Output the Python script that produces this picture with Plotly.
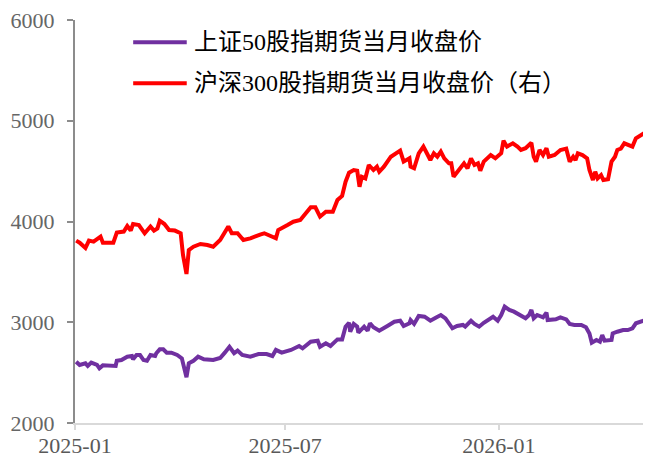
import plotly.graph_objects as go

# 上证50股指期货当月收盘价
sse50_dates = [
    "2025-01-02", "2025-01-05", "2025-01-10", "2025-01-12", "2025-01-15", "2025-01-20",
    "2025-01-22", "2025-01-25", "2025-02-05", "2025-02-06", "2025-02-10", "2025-02-15",
    "2025-02-19", "2025-02-20", "2025-02-23", "2025-02-26", "2025-03-01", "2025-03-04",
    "2025-03-07", "2025-03-11", "2025-03-12", "2025-03-15", "2025-03-18", "2025-03-21",
    "2025-03-25", "2025-03-30", "2025-04-03", "2025-04-05", "2025-04-07", "2025-04-09",
    "2025-04-13", "2025-04-17", "2025-04-22", "2025-04-30", "2025-05-06", "2025-05-10",
    "2025-05-14", "2025-05-18", "2025-05-21", "2025-05-25", "2025-06-01", "2025-06-08",
    "2025-06-15", "2025-06-20", "2025-06-23", "2025-06-28", "2025-07-06", "2025-07-13",
    "2025-07-16", "2025-07-23", "2025-07-29", "2025-07-31", "2025-08-05", "2025-08-09",
    "2025-08-15", "2025-08-19", "2025-08-22", "2025-08-25", "2025-08-26", "2025-08-29",
    "2025-09-01", "2025-09-02", "2025-09-07", "2025-09-10", "2025-09-12", "2025-09-15",
    "2025-09-20", "2025-09-27", "2025-10-03", "2025-10-08", "2025-10-11", "2025-10-16",
    "2025-10-17", "2025-10-20", "2025-10-24", "2025-10-29", "2025-11-03", "2025-11-08",
    "2025-11-12", "2025-11-16", "2025-11-19", "2025-11-22", "2025-11-26", "2025-12-01",
    "2025-12-03", "2025-12-08", "2025-12-11", "2025-12-15", "2025-12-19", "2025-12-27",
    "2025-12-31", "2026-01-03", "2026-01-06", "2026-01-10", "2026-01-14", "2026-01-19",
    "2026-01-24", "2026-01-27", "2026-01-29", "2026-01-31", "2026-02-03", "2026-02-08",
    "2026-02-11", "2026-02-12", "2026-02-19", "2026-02-23", "2026-02-28", "2026-03-03",
    "2026-03-07", "2026-03-13", "2026-03-17", "2026-03-20", "2026-03-22", "2026-03-26",
    "2026-03-29", "2026-03-31", "2026-04-02", "2026-04-08", "2026-04-09", "2026-04-13",
    "2026-04-18", "2026-04-22", "2026-04-26", "2026-04-29", "2026-05-03", "2026-05-08",
    "2026-05-12",
]
sse50_values = [
    2608, 2576, 2592, 2566, 2599, 2576,
    2543, 2572, 2566, 2618, 2625, 2658,
    2665, 2632, 2675, 2675, 2625, 2618,
    2675, 2665, 2692, 2731, 2731, 2698,
    2698, 2675, 2642, 2543, 2454, 2592,
    2618, 2658, 2632, 2625, 2645, 2698,
    2757, 2692, 2718, 2675, 2658, 2685,
    2685, 2665, 2725, 2698, 2725, 2764,
    2741, 2807, 2817, 2757, 2791, 2764,
    2830, 2830, 2956, 2995, 2906, 2983,
    2956, 2896, 2956, 2916, 2990, 2950,
    2916, 2963, 3005, 3015, 2963, 2990,
    3022, 2983, 3062, 3055, 3015, 3048,
    3072, 3039, 2995, 2940, 2963, 2973,
    2956, 3015, 2983, 2956, 2995, 3055,
    3015, 3072, 3155, 3122, 3105, 3072,
    3039, 3072, 3122, 3039, 3072, 3048,
    3095, 3022, 3029, 3048, 3029, 2983,
    2973, 2973, 2950, 2889, 2797, 2824,
    2807, 2873, 2817, 2824, 2889, 2906,
    2923, 2923, 2940, 2990, 3005, 3015,
    3039,
]

# 沪深300股指期货当月收盘价（右）
hs300_dates = [
    "2025-01-02", "2025-01-05", "2025-01-10", "2025-01-13", "2025-01-17", "2025-01-23",
    "2025-01-25", "2025-02-03", "2025-02-06", "2025-02-12", "2025-02-15", "2025-02-18",
    "2025-02-20", "2025-02-25", "2025-03-02", "2025-03-07", "2025-03-10", "2025-03-13",
    "2025-03-15", "2025-03-19", "2025-03-23", "2025-03-28", "2025-04-02", "2025-04-04",
    "2025-04-07", "2025-04-09", "2025-04-13", "2025-04-19", "2025-04-25", "2025-04-30",
    "2025-05-06", "2025-05-10", "2025-05-13", "2025-05-16", "2025-05-21", "2025-05-26",
    "2025-06-01", "2025-06-10", "2025-06-13", "2025-06-23", "2025-06-25", "2025-07-03",
    "2025-07-08", "2025-07-14", "2025-07-18", "2025-07-23", "2025-07-27", "2025-07-31",
    "2025-08-05", "2025-08-11", "2025-08-15", "2025-08-19", "2025-08-22", "2025-08-25",
    "2025-08-29", "2025-09-01", "2025-09-03", "2025-09-05", "2025-09-08", "2025-09-11",
    "2025-09-15", "2025-09-18", "2025-09-20", "2025-09-24", "2025-09-30", "2025-10-08",
    "2025-10-11", "2025-10-16", "2025-10-17", "2025-10-20", "2025-10-24", "2025-10-28",
    "2025-10-31", "2025-11-03", "2025-11-06", "2025-11-09", "2025-11-12", "2025-11-15",
    "2025-11-19", "2025-11-21", "2025-11-23", "2025-11-28", "2025-12-02", "2025-12-05",
    "2025-12-08", "2025-12-11", "2025-12-14", "2025-12-16", "2025-12-19", "2025-12-25",
    "2025-12-29", "2026-01-03", "2026-01-05", "2026-01-08", "2026-01-13", "2026-01-17",
    "2026-01-20", "2026-01-24", "2026-01-29", "2026-01-31", "2026-02-02", "2026-02-05",
    "2026-02-08", "2026-02-11", "2026-02-13", "2026-02-18", "2026-02-23", "2026-02-28",
    "2026-03-03", "2026-03-06", "2026-03-08", "2026-03-10", "2026-03-14", "2026-03-18",
    "2026-03-20", "2026-03-23", "2026-03-25", "2026-03-27", "2026-03-30", "2026-04-01",
    "2026-04-05", "2026-04-08", "2026-04-11", "2026-04-13", "2026-04-16", "2026-04-19",
    "2026-04-23", "2026-04-26", "2026-04-29", "2026-05-03", "2026-05-08", "2026-05-12",
]
hs300_values = [
    3810, 3790, 3737, 3810, 3800, 3850,
    3790, 3790, 3890, 3900, 3955, 3910,
    3975, 3965, 3883, 3950, 3910, 3932,
    4008, 3975, 3915, 3910, 3883, 3668,
    3479, 3717, 3750, 3777, 3767, 3750,
    3816, 3900, 3950, 3883, 3883, 3816,
    3833, 3873, 3883, 3833, 3915, 3965,
    3998, 4015, 4065, 4141, 4141, 4048,
    4097, 4097, 4213, 4253, 4395, 4484,
    4511, 4504, 4345, 4444, 4428, 4561,
    4511, 4544, 4494, 4544, 4643, 4703,
    4594, 4627, 4544, 4528, 4677, 4743,
    4677, 4610, 4677, 4643, 4693, 4627,
    4577, 4577, 4444, 4511, 4577, 4528,
    4627, 4561, 4577, 4504, 4594, 4660,
    4627, 4677, 4802, 4743, 4776, 4743,
    4710, 4727, 4782, 4643, 4594, 4710,
    4660, 4727, 4643, 4660, 4710, 4723,
    4594, 4643, 4610, 4677, 4660, 4627,
    4511, 4412, 4494, 4428, 4461, 4412,
    4419, 4594, 4643, 4710, 4723, 4776,
    4760, 4743, 4826, 4859, 4892, 4948,
]

y_ticks = [2000, 3000, 4000, 5000, 6000]
x_ticks = ["2025-01-01", "2025-07-01", "2026-01-01"]
x_labels = ["2025-01", "2025-07", "2026-01"]

serif = '"Liberation Serif", "Noto Sans CJK SC", serif'

fig = go.Figure()
fig.add_trace(go.Scatter(
    x=sse50_dates, y=sse50_values, mode="lines",
    name="上证50股指期货当月收盘价",
    line=dict(color="#7030A0", width=4),
))
fig.add_trace(go.Scatter(
    x=hs300_dates, y=hs300_values, mode="lines",
    name="沪深300股指期货当月收盘价（右）",
    line=dict(color="#FF0000", width=4),
))

# hand-drawn legend to match the long swatches of the original
legend_items = [
    ("上证50股指期货当月收盘价", "#7030A0", 0.945),
    ("沪深300股指期货当月收盘价（右）", "#FF0000", 0.843),
]
for text, color, ly in legend_items:
    fig.add_shape(
        type="line", xref="paper", yref="paper",
        x0=0.101, x1=0.194, y0=ly, y1=ly,
        line=dict(color=color, width=4),
    )
    fig.add_annotation(
        xref="paper", yref="paper", x=0.203, y=ly,
        xanchor="left", yanchor="middle", showarrow=False,
        text=text, font=dict(family=serif, size=24, color="#000000"),
    )

# the page body adds an 8px offset, so the figure is 8px smaller each way
fig.update_layout(
    width=643, height=449,
    margin=dict(l=67, r=0, t=12, b=34),
    paper_bgcolor="white", plot_bgcolor="white",
    showlegend=False,
    font=dict(family=serif, size=22, color="#666666"),
    xaxis=dict(
        type="date",
        range=["2025-01-01", "2026-05-12"],
        tickvals=x_ticks, ticktext=x_labels,
        showgrid=False, zeroline=False, automargin=False,
        showline=True, linecolor="#D9D9D9", linewidth=2,
        ticks="outside", ticklen=5, tickcolor="#D9D9D9", tickwidth=2,
        ticklabelstandoff=-3, ticklabeloverflow="allow",
        tickfont=dict(family=serif, size=22, color="#595959"),
    ),
    yaxis=dict(
        range=[2000, 6000],
        tickvals=y_ticks,
        showgrid=False, zeroline=False, automargin=False,
        showline=True, linecolor="#8C8C8C", linewidth=2,
        ticks="outside", ticklen=6, tickcolor="#8C8C8C", tickwidth=2,
        ticklabelstandoff=8, ticklabeloverflow="allow",
        tickfont=dict(family=serif, size=22, color="#666666"),
    ),
)

fig.write_html("out.html")
